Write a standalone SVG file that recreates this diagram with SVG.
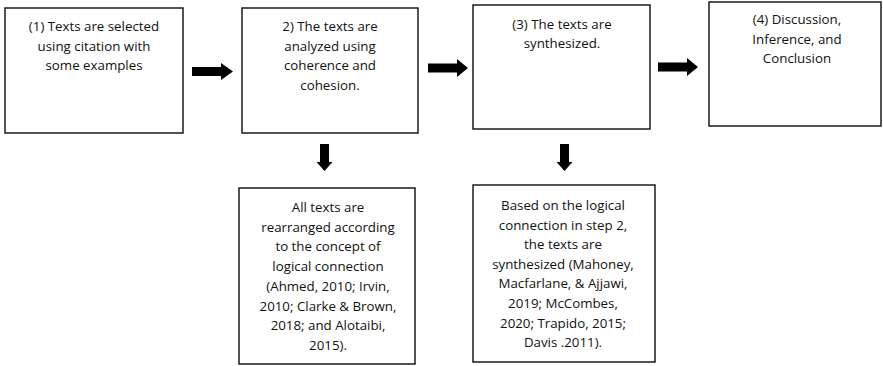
<svg xmlns="http://www.w3.org/2000/svg" width="883" height="366" viewBox="0 0 883 366">
<style>
.box{fill:#fff;stroke:#1a1a1a;stroke-width:1.5}
.t{font-family:"Open Sans","Noto Sans","Liberation Sans",sans-serif;font-size:13.3px;fill:#111;text-anchor:middle}
.arr{fill:#000}
</style>
<rect width="883" height="366" fill="#fff"/>
<g id="node1">
<rect class="box" x="5" y="8" width="178" height="125"/>
<text class="t" x="94" y="31"><tspan x="94">(1) Texts are selected</tspan><tspan x="94" dy="19.5">using citation with</tspan><tspan x="94" dy="19.5">some examples</tspan></text>
</g>
<g id="node2">
<rect class="box" x="242" y="8" width="176" height="125"/>
<text class="t" x="330" y="31"><tspan x="330">2) The texts are</tspan><tspan x="330" dy="19.5">analyzed using</tspan><tspan x="330" dy="19.5">coherence and</tspan><tspan x="330" dy="19.5">cohesion.</tspan></text>
</g>
<g id="node3">
<rect class="box" x="473" y="5" width="177" height="124"/>
<text class="t" x="562" y="29"><tspan x="562">(3) The texts are</tspan><tspan x="562" dy="19">synthesized.</tspan></text>
</g>
<g id="node4">
<rect class="box" x="709" y="2" width="172" height="124"/>
<text class="t" x="797" y="24"><tspan x="797">(4) Discussion,</tspan><tspan x="797" dy="19.5">Inference, and</tspan><tspan x="797" dy="19.5">Conclusion</tspan></text>
</g>
<g id="node5">
<rect class="box" x="239" y="188" width="176" height="176"/>
<text class="t" x="328" y="212"><tspan x="328">All texts are</tspan><tspan x="328" dy="19.7">rearranged according</tspan><tspan x="328" dy="19.7">to the concept of</tspan><tspan x="328" dy="19.7">logical connection</tspan><tspan x="328" dy="19.7">(Ahmed, 2010; Irvin,</tspan><tspan x="328" dy="19.7">2010; Clarke &amp; Brown,</tspan><tspan x="328" dy="19.7">2018; and Alotaibi,</tspan><tspan x="328" dy="19.7">2015).</tspan></text>
</g>
<g id="node6">
<rect class="box" x="473" y="185" width="182" height="177"/>
<text class="t" x="563" y="210"><tspan x="563">Based on the logical</tspan><tspan x="563" dy="19.6">connection in step 2,</tspan><tspan x="563" dy="19.6">the texts are</tspan><tspan x="563" dy="19.6">synthesized (Mahoney,</tspan><tspan x="563" dy="19.6">Macfarlane, &amp; Ajjawi,</tspan><tspan x="563" dy="19.6">2019; McCombes,</tspan><tspan x="563" dy="19.6">2020; Trapido, 2015;</tspan><tspan x="563" dy="19.6">Davis .2011).</tspan></text>
</g>
<g id="connectors">
<polygon class="arr" points="192,67 221,67 221,63 233,71.5 221,80 221,76 192,76"/>
<polygon class="arr" points="428,63.5 457,63.5 457,59 468,68 457,77 457,72.5 428,72.5"/>
<polygon class="arr" points="658,62.5 687,62.5 687,58 698,67 687,76 687,71.5 658,71.5"/>
<polygon class="arr" points="320,144 329,144 329,162 332.5,162 324.5,171 316.5,162 320,162"/>
<polygon class="arr" points="560,144 569,144 569,162 572.5,162 564.5,171 556.5,162 560,162"/>
</g>
</svg>
